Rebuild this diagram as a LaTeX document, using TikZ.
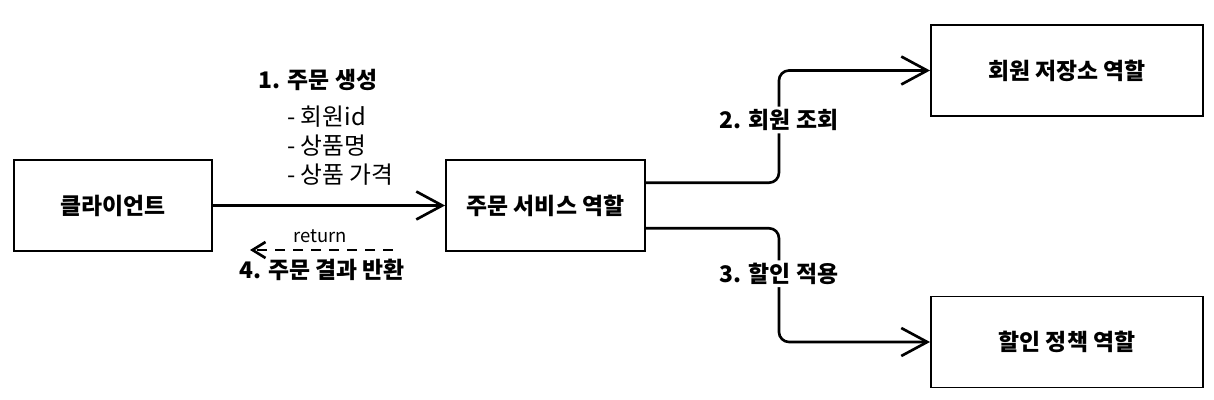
\documentclass[tikz,border=0pt]{standalone}
\usepackage{fontspec}
\setmainfont{Noto Sans CJK KR}
\usepackage{xcolor}
\usetikzlibrary{arrows.meta}

\begin{document}
\begin{tikzpicture}[
    role/.style={draw, line width=1.1pt, inner sep=0pt, minimum height=1.82cm, font=\fontsize{13}{15}\selectfont\bfseries},
    flow/.style={line width=1.5pt, rounded corners=0.2cm, -{Straight Barb[length=0.52cm, width=0.56cm]}},
    tag/.style={font=\fontsize{13}{15}\selectfont\bfseries, inner sep=1.5pt},
]
% 1px = 0.02cm, y runs downwards
\useasboundingbox (0,0) rectangle (24.28,-8);

\def\yMid{-4.11}
\def\xBend{2.66}

% Roles
\node[role, minimum width=3.96cm] (client) at (2.26, \yMid) {클라이언트};
\node[role, minimum width=3.98cm] (svc)    at (10.91, \yMid) {주문 서비스 역할};
\node[role, minimum width=5.44cm] (repo)   at (21.34, -1.41) {회원 저장소 역할};
\node[role, minimum width=5.44cm] (policy) at (21.34, -6.84) {할인 정책 역할};

% Order request
\draw[flow] (client.east) -- (svc.west);
\node[tag] (step1) at (6.36, -1.6) {1. 주문 생성};
\node[anchor=west, align=left, font=\fontsize{13.5}{16.5}\selectfont, inner sep=0pt]
    (params) at (5.74, -2.92) {- 회원id\\- 상품명\\- 상품 가격};

% Result back to client
\coordinate (retFrom) at (7.86, -5.0);
\coordinate (retTo)   at (5.0, -5.0);
\draw[line width=1.5pt, dash pattern=on 0.2cm off 0.16cm, -{Straight Barb[length=0.26cm, width=0.32cm]}]
    (retFrom) -- (retTo);
\node[font=\fontsize{10.5}{12}\selectfont] (ret) at (6.4, -4.72) {return};
\node[tag] (step4) at (6.44, -5.4) {4. 주문 결과 반환};

% Calls from the order service
\draw[flow] ([yshift=0.455cm]svc.east) -- ++(\xBend,0)
    |- node[tag, fill=white, pos=0.28] (step2) {2. 회원 조회} (repo.west);
\draw[flow] ([yshift=-0.455cm]svc.east) -- ++(\xBend,0)
    |- node[tag, fill=white, pos=0.2] (step3) {3. 할인 적용} (policy.west);

\end{tikzpicture}
\end{document}
